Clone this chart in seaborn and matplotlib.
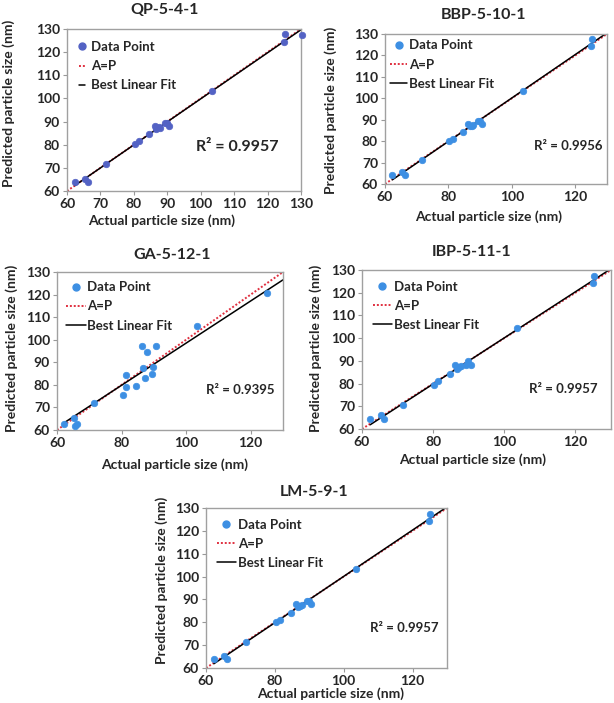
import matplotlib
matplotlib.use("Agg")
import matplotlib.pyplot as plt
import numpy as np
import pandas as pd
import seaborn as sns
from matplotlib.lines import Line2D

sns.set_style("white")
plt.rcParams['font.family'] = ['Lato', 'DejaVu Sans']
plt.rcParams['font.weight'] = 'bold'

# actual particle sizes (nm), shared by most panels
actual = [62.3, 65.3, 66.2, 71.6, 80.3, 81.4, 84.6, 86.2, 86.7, 87.4, 87.9,
          89.3, 89.8, 90.6, 103.5, 124.8, 125.2]

qp_actual = actual + [130.3]
qp_pred = [64.0, 65.3, 64.0, 71.5, 80.2, 81.4, 84.5, 88.3, 87.0, 87.5, 87.2,
           89.4, 89.5, 88.3, 103.4, 124.5, 127.7, 127.6]
bbp_pred = [64.0, 65.5, 64.0, 71.4, 80.2, 81.2, 84.2, 88.2, 87.0, 87.3, 87.6,
            89.2, 89.4, 88.2, 103.3, 124.5, 127.5]
ga_actual = [62.3, 65.3, 65.6, 66.2, 71.6, 80.3, 81.3, 81.4, 84.6, 86.2, 86.7,
             87.3, 87.8, 89.3, 89.8, 90.6, 103.5, 125.0]
ga_pred = [62.5, 65.2, 61.8, 62.5, 72.0, 75.7, 84.3, 79.0, 79.7, 97.0, 87.5,
           83.2, 94.5, 85.0, 88.0, 97.0, 106.0, 120.7]
ibp_pred = [64.2, 66.0, 64.2, 70.5, 79.5, 81.2, 84.2, 88.2, 86.5, 87.5, 87.6,
            88.0, 90.0, 88.2, 104.5, 124.2, 127.5]
lm_pred = [64.0, 65.2, 64.0, 71.3, 80.2, 81.2, 84.2, 88.2, 86.7, 87.2, 87.6,
           89.2, 89.3, 88.2, 103.3, 124.3, 127.5]

# best linear fit (slope, intercept); None = fit the points
fit_coef = [None, None, (0.934, 5.1), None, None]

titles = ["QP-5-4-1", "BBP-5-10-1", "GA-5-12-1", "IBP-5-11-1", "LM-5-9-1"]
r2_text = ["R² = 0.9957", "R² = 0.9956", "R² = 0.9395", "R² = 0.9957", "R² = 0.9957"]
xticks_qp = [60, 70, 80, 90, 100, 110, 120, 130]
xticks_other = [60, 80, 100, 120]
yticks = [60, 70, 80, 90, 100, 110, 120, 130]

W, H = 614, 703
fig = plt.figure(figsize=(W / 100, H / 100), dpi=100)


def px_rect(l, t, r, b):
    return [l / W, 1 - b / H, (r - l) / W, (b - t) / H]


panels = [
    dict(x=qp_actual, y=qp_pred, rect=(67, 29, 301, 191), col="#5362c4",
         xt=xticks_qp, title=(165, 10), xl=(162, 221), yl=(9, 103),
         r2=(0.55, 0.27), r2fs=11.5, hl=0.5, hp=0.4, bx=0.6),
    dict(x=actual, y=bbp_pred, rect=(385, 34, 607, 184), col="#3d8fe3",
         xt=xticks_other, title=(483, 15), xl=(489, 217), yl=(331, 110),
         r2=(0.67, 0.25), r2fs=9.5, hl=1.3, hp=0.1, bx=0.1),
    dict(x=ga_actual, y=ga_pred, rect=(57, 272, 283, 430), col="#3d8fe3",
         xt=xticks_other, title=(172, 255), xl=(175, 465), yl=(12, 348),
         r2=(0.66, 0.25), r2fs=9.5, hl=1.5, hp=0.1, bx=0.4),
    dict(x=actual, y=ibp_pred, rect=(362, 270, 611, 429), col="#3d8fe3",
         xt=xticks_other, title=(472, 252), xl=(473, 460), yl=(316, 348),
         r2=(0.67, 0.25), r2fs=9.5, hl=1.5, hp=0.1, bx=0.5),
    dict(x=actual, y=lm_pred, rect=(206, 508, 447, 668), col="#3d8fe3",
         xt=xticks_other, title=(314, 492), xl=(331, 694), yl=(162, 580),
         r2=(0.68, 0.25), r2fs=9.5, hl=1.5, hp=0.1, bx=0.5),
]

FS = 10

for p, title, r2, coef in zip(panels, titles, r2_text, fit_coef):
    ax = fig.add_axes(px_rect(*p["rect"]))
    df = pd.DataFrame({"actual": p["x"], "pred": p["y"]})
    sns.scatterplot(data=df, x="actual", y="pred", ax=ax, color=p["col"],
                    s=22, edgecolor=p["col"], linewidth=0.5, zorder=3,
                    clip_on=False)
    # A=P line
    ax.plot([60, 130], [60, 130], color="#e03040", ls=(0, (1, 1)), lw=1.4, zorder=2)
    # best linear fit
    if coef is None:
        m, c = np.polyfit(df["actual"], df["pred"], 1)
    else:
        m, c = coef
    xf = np.array([df["actual"].min(), 130])
    ax.plot(xf, m * xf + c, color="black", lw=1.1, zorder=2)

    ax.set_xlim(60, 130)
    ax.set_ylim(60, 130)
    ax.set_xticks(p["xt"])
    ax.set_yticks(yticks)
    ax.set_xlabel("")
    ax.set_ylabel("")
    ax.tick_params(labelsize=FS, length=3, direction="out", color="#999999",
                   bottom=True, left=True, pad=2)
    for lab in ax.get_xticklabels() + ax.get_yticklabels():
        lab.set_fontweight("bold")
    for sp in ax.spines.values():
        sp.set_color("#a0a0a0")
        sp.set_linewidth(1.0)

    handles = [
        Line2D([], [], ls="", marker="o", color=p["col"], markersize=5),
        Line2D([], [], color="#e03040", ls=(0, (1, 1)), lw=1.4),
        Line2D([], [], color="black", lw=1.1),
    ]
    ax.legend(handles, ["Data Point", "A=P", "Best Linear Fit"], loc="upper left",
              frameon=False, handlelength=p["hl"], handletextpad=p["hp"],
              labelspacing=0.55, borderaxespad=0.3, borderpad=p["bx"],
              prop=dict(weight="bold", size=9.5))

    ax.text(p["r2"][0], p["r2"][1], r2, transform=ax.transAxes,
            fontsize=p["r2fs"], fontweight="bold", va="center")

    fig.text(p["title"][0] / W, 1 - p["title"][1] / H, title, ha="center",
             va="center", fontsize=11.5, fontweight="bold")
    fig.text(p["xl"][0] / W, 1 - p["xl"][1] / H, "Actual particle size (nm)",
             ha="center", va="center", fontsize=FS, fontweight="bold")
    fig.text(p["yl"][0] / W, 1 - p["yl"][1] / H, "Predicted particle size (nm)",
             ha="center", va="center", rotation=90, fontsize=FS,
             fontweight="bold")

fig.savefig("out.png", dpi=100)
